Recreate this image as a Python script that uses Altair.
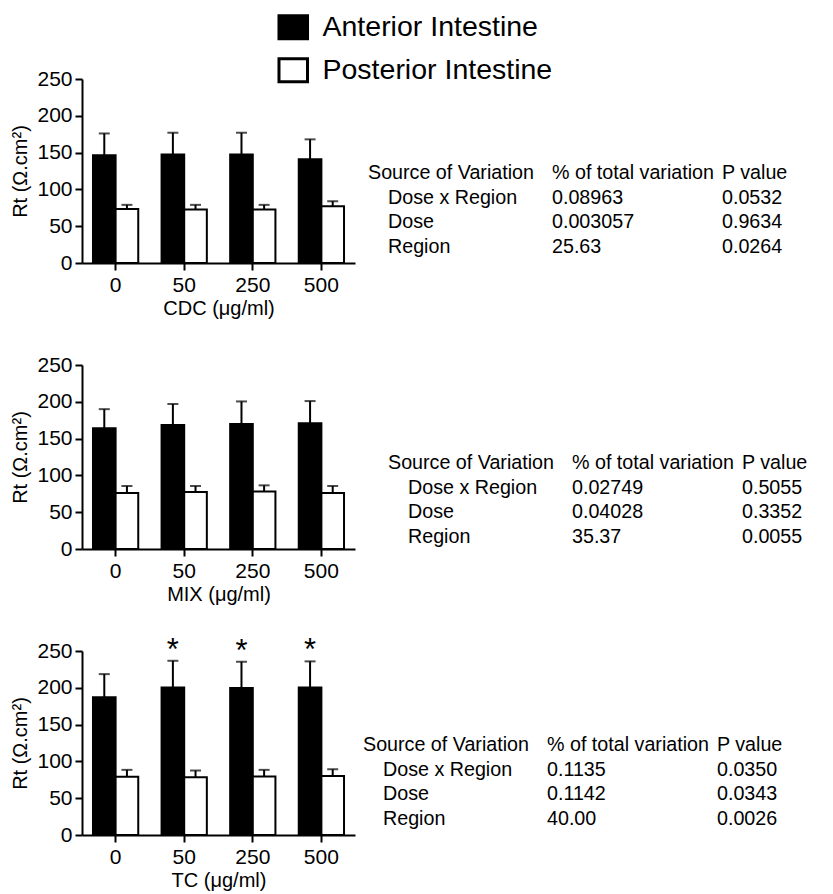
import altair as alt
import pandas as pd

doses = ["0", "50", "250", "500"]
regions = ["Anterior Intestine", "Posterior Intestine"]

# CDC panel
cdc_ant_mean = [146.5, 147.5, 147.5, 141.0]
cdc_ant_sem = [29.5, 29.5, 29.5, 27.0]
cdc_post_mean = [73.5, 72.6, 72.6, 77.0]
cdc_post_sem = [5.5, 6.4, 6.4, 7.0]

# MIX panel
mix_ant_mean = [164.0, 168.5, 170.0, 171.0]
mix_ant_sem = [26.0, 28.5, 30.5, 30.0]
mix_post_mean = [76.0, 77.4, 78.0, 76.0]
mix_post_sem = [9.6, 8.2, 8.5, 9.6]

# TC panel
tc_ant_mean = [187.0, 200.3, 199.8, 200.3]
tc_ant_sem = [31.6, 36.4, 35.6, 35.6]
tc_post_mean = [79.0, 78.4, 79.4, 80.3]
tc_post_sem = [9.5, 9.2, 9.1, 9.1]
tc_sig = ["", "*", "*", "*"]

# ANOVA tables
header = ["Source of Variation", "% of total variation", "P value"]
sources = ["Dose x Region", "Dose", "Region"]
cdc_pct = ["0.08963", "0.003057", "25.63"]
cdc_p = ["0.0532", "0.9634", "0.0264"]
mix_pct = ["0.02749", "0.04028", "35.37"]
mix_p = ["0.5055", "0.3352", "0.0055"]
tc_pct = ["0.1135", "0.1142", "40.00"]
tc_p = ["0.0350", "0.0343", "0.0026"]

y_ticks = [0, 50, 100, 150, 200, 250]

FONT = "Liberation Sans"
W, H = 273, 184
LH = 24.7


def make_df(am, asem, pm, psem, sig=None):
    rows = []
    for i, d in enumerate(doses):
        rows.append({"dose": d, "region": regions[0], "mean": am[i],
                     "upper": am[i] + asem[i], "sig": sig[i] if sig else ""})
        rows.append({"dose": d, "region": regions[1], "mean": pm[i],
                     "upper": pm[i] + psem[i], "sig": ""})
    return pd.DataFrame(rows)


def panel(df, xtitle, pct, pv, tx, ty, stars=False):
    x = alt.X("dose:N", sort=doses,
              scale=alt.Scale(paddingInner=0.34, paddingOuter=0.16),
              axis=alt.Axis(title=xtitle, labelAngle=0))
    xo = alt.XOffset("region:N", sort=regions, scale=alt.Scale(paddingInner=0, paddingOuter=0))
    y_scale = alt.Scale(domain=[0, 250], nice=False)
    y_axis = alt.Axis(title="Rt (Ω.cm²)", values=y_ticks, labelOverlap=False,
                      labelFlush=False, tickCount=6)

    def Y(field):
        return alt.Y(field, scale=y_scale, axis=y_axis)

    base = alt.Chart(df)
    bars = base.mark_bar(stroke="black", strokeWidth=2).encode(
        x=x, xOffset=xo, y=Y("mean:Q"),
        fill=alt.Fill("region:N", scale=alt.Scale(domain=regions, range=["black", "white"]),
                      legend=alt.Legend(title=None)),
    )
    err = base.mark_rule(color="black", strokeWidth=2).encode(
        x=x, xOffset=xo, y=Y("mean:Q"), y2="upper:Q")
    cap = base.mark_tick(color="black", thickness=2, size=11, orient="horizontal").encode(
        x=x, xOffset=xo, y=Y("upper:Q"))
    layers = [bars, err, cap]
    if stars:
        st = base.transform_filter(alt.datum.sig != "").mark_text(
            font=FONT, fontSize=31, baseline="alphabetic", dy=-1,
            color="black").encode(x=x, xOffset=xo, y=Y("upper:Q"), text="sig:N")
        layers.append(st)
    one = alt.Data(values=[{"k": 1}])
    tsty = dict(font=FONT, fontSize=19.7, align="left", baseline="alphabetic",
                lineHeight=LH, color="black")
    yb = ty + 7
    layers += [
        alt.Chart(one).mark_text(text=header[0], **tsty).encode(
            x=alt.value(tx), y=alt.value(yb)),
        alt.Chart(one).mark_text(text=sources, **tsty).encode(
            x=alt.value(tx + 20), y=alt.value(yb + LH)),
        alt.Chart(one).mark_text(text=[header[1]] + pct, **tsty).encode(
            x=alt.value(tx + 184), y=alt.value(yb)),
        alt.Chart(one).mark_text(text=[header[2]] + pv, **tsty).encode(
            x=alt.value(tx + 354), y=alt.value(yb)),
    ]
    return alt.layer(*layers).properties(width=W, height=H)


p1 = panel(make_df(cdc_ant_mean, cdc_ant_sem, cdc_post_mean, cdc_post_sem),
           "CDC (μg/ml)", cdc_pct, cdc_p, 286, 93)
p2 = panel(make_df(mix_ant_mean, mix_ant_sem, mix_post_mean, mix_post_sem),
           "MIX (μg/ml)", mix_pct, mix_p, 306, 97)
p3 = panel(make_df(tc_ant_mean, tc_ant_sem, tc_post_mean, tc_post_sem, tc_sig),
           "TC (μg/ml)", tc_pct, tc_p, 281, 93, stars=True)

chart = alt.vconcat(p1, p2, p3, spacing=102, bounds="flush").properties(
    padding={"left": 2, "top": 5, "right": 5, "bottom": 5}
).configure_view(stroke=None).configure_axis(
    labelFont=FONT, titleFont=FONT, labelFontSize=21, titleFontSize=20,
    titleFontWeight="normal", labelColor="black", titleColor="black",
    domainColor="black", tickColor="black", domainWidth=2, tickWidth=2,
    tickSize=7, grid=False, labelPadding=3, titlePadding=6,
).configure_axisX(labelPadding=4, titlePadding=3).configure_legend(
    orient="none", legendX=197, legendY=-66, labelFont=FONT, labelFontSize=28.5,
    labelColor="black", symbolType="M-1.24,-1H1.24V1H-1.24Z", symbolSize=529,
    symbolStrokeColor="black", symbolStrokeWidth=3, rowPadding=7, labelOffset=15,
    padding=0, symbolOpacity=1, labelLimit=500,
)

chart.save("out.html", embed_options={"renderer": "svg", "actions": False})
